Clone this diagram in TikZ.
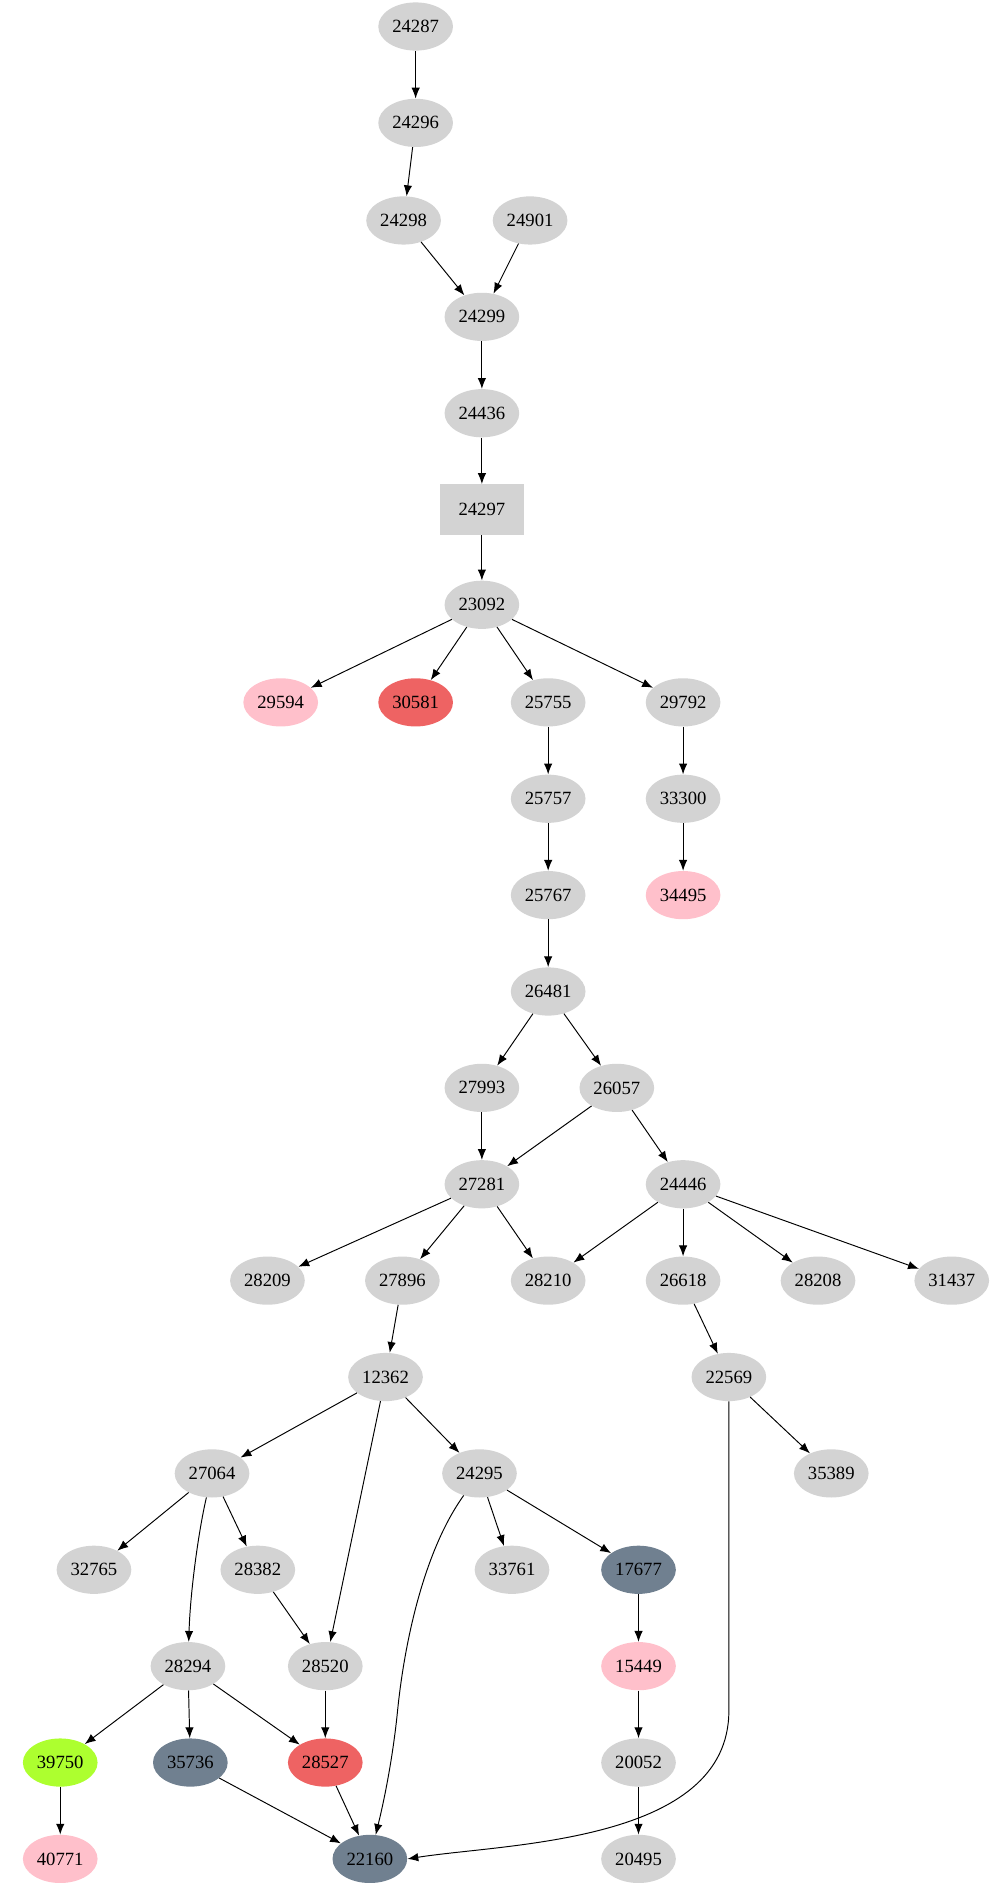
\documentclass[tikz,border=0pt]{standalone}
\usepackage{fontspec}
\setmainfont{Liberation Serif}
\usetikzlibrary{shapes.geometric,arrows.meta}
\definecolor{lg}{HTML}{D3D3D3}
\definecolor{pk}{HTML}{FFC0CB}
\definecolor{rd}{HTML}{EE6363}
\definecolor{sl}{HTML}{708090}
\definecolor{gr}{HTML}{ADFF2F}
\tikzset{
 nd/.style={ellipse,fill=lg,minimum width=62pt,minimum height=40pt,inner sep=0pt,font=\fontsize{15.5}{18}\selectfont},
 bx/.style={rectangle,fill=lg,minimum width=70pt,minimum height=42pt,inner sep=0pt,font=\fontsize{15.5}{18}\selectfont},
 e/.style={-{Latex[length=9pt,width=7pt]},line width=0.8pt}
}
\begin{document}
\begin{tikzpicture}[x=1pt,y=-1pt]
\useasboundingbox (0,0) rectangle (831,1563);
\node[nd] (a24287) at (345,22) {24287};
\node[nd] (a24296) at (345,102) {24296};
\node[nd] (a24298) at (335,183) {24298};
\node[nd] (a24901) at (440,183) {24901};
\node[nd] (a24299) at (400,263) {24299};
\node[nd] (a24436) at (400,343) {24436};
\node[bx] (a24297) at (400,423) {24297};
\node[nd] (a23092) at (400,502) {23092};
\node[nd,fill=pk] (a29594) at (233,583) {29594};
\node[nd,fill=rd] (a30581) at (345,583) {30581};
\node[nd] (a25755) at (455,583) {25755};
\node[nd] (a29792) at (567,583) {29792};
\node[nd] (a25757) at (455,663) {25757};
\node[nd] (a33300) at (567,663) {33300};
\node[nd] (a25767) at (455,743) {25767};
\node[nd,fill=pk] (a34495) at (567,743) {34495};
\node[nd] (a26481) at (455,823) {26481};
\node[nd] (a27993) at (400,903) {27993};
\node[nd] (a26057) at (512,903) {26057};
\node[nd] (a27281) at (400,983) {27281};
\node[nd] (a24446) at (567,983) {24446};
\node[nd] (a28209) at (222,1063) {28209};
\node[nd] (a27896) at (334,1063) {27896};
\node[nd] (a28210) at (455,1063) {28210};
\node[nd] (a26618) at (567,1063) {26618};
\node[nd] (a28208) at (679,1063) {28208};
\node[nd] (a31437) at (790,1063) {31437};
\node[nd] (a12362) at (320,1143) {12362};
\node[nd] (a22569) at (605,1143) {22569};
\node[nd] (a27064) at (176,1223) {27064};
\node[nd] (a24295) at (398,1223) {24295};
\node[nd] (a35389) at (690,1223) {35389};
\node[nd] (a32765) at (78,1303) {32765};
\node[nd] (a28382) at (214,1303) {28382};
\node[nd] (a33761) at (425,1303) {33761};
\node[nd,fill=sl] (a17677) at (530,1303) {17677};
\node[nd] (a28294) at (156,1383) {28294};
\node[nd] (a28520) at (270,1383) {28520};
\node[nd,fill=pk] (a15449) at (530,1383) {15449};
\node[nd,fill=gr] (a39750) at (50,1463) {39750};
\node[nd,fill=sl] (a35736) at (158,1463) {35736};
\node[nd,fill=rd] (a28527) at (270,1463) {28527};
\node[nd] (a20052) at (530,1463) {20052};
\node[nd,fill=pk] (a40771) at (50,1543) {40771};
\node[nd,fill=sl] (a22160) at (307,1543) {22160};
\node[nd] (a20495) at (530,1543) {20495};
\draw[e] (a24287)--(a24296);
\draw[e] (a24296)--(a24298);
\draw[e] (a24298)--(a24299);
\draw[e] (a24901)--(a24299);
\draw[e] (a24299)--(a24436);
\draw[e] (a24436)--(a24297);
\draw[e] (a24297)--(a23092);
\draw[e] (a23092)--(a29594);
\draw[e] (a23092)--(a30581);
\draw[e] (a23092)--(a25755);
\draw[e] (a23092)--(a29792);
\draw[e] (a25755)--(a25757);
\draw[e] (a29792)--(a33300);
\draw[e] (a25757)--(a25767);
\draw[e] (a33300)--(a34495);
\draw[e] (a25767)--(a26481);
\draw[e] (a26481)--(a27993);
\draw[e] (a26481)--(a26057);
\draw[e] (a27993)--(a27281);
\draw[e] (a26057)--(a27281);
\draw[e] (a26057)--(a24446);
\draw[e] (a27281)--(a28209);
\draw[e] (a27281)--(a27896);
\draw[e] (a27281)--(a28210);
\draw[e] (a24446)--(a28210);
\draw[e] (a24446)--(a26618);
\draw[e] (a24446)--(a28208);
\draw[e] (a24446)--(a31437);
\draw[e] (a27896)--(a12362);
\draw[e] (a26618)--(a22569);
\draw[e] (a12362)--(a27064);
\draw[e] (a12362)--(a28520);
\draw[e] (a12362)--(a24295);
\draw[e] (a22569)--(a35389);
\draw[e] (a22569.south) .. controls (605,1300) and (605,1380) .. (605,1420) .. controls (605,1530) and (420,1530) .. (a22160.east);
\draw[e] (a27064)--(a32765);
\draw[e] (a27064)--(a28382);
\draw[e] (a27064) .. controls (165,1270) and (158,1320) .. (a28294);
\draw[e] (a24295)--(a33761);
\draw[e] (a24295)--(a17677);
\draw[e] (a24295) .. controls (350,1290) and (335,1370) .. (330,1420) .. controls (325,1470) and (315,1510) .. (a22160);
\draw[e] (a28382)--(a28520);
\draw[e] (a17677)--(a15449);
\draw[e] (a28294)--(a39750);
\draw[e] (a28294)--(a35736);
\draw[e] (a28294)--(a28527);
\draw[e] (a28520)--(a28527);
\draw[e] (a15449)--(a20052);
\draw[e] (a39750)--(a40771);
\draw[e] (a35736)--(a22160);
\draw[e] (a28527)--(a22160);
\draw[e] (a20052)--(a20495);
\end{tikzpicture}
\end{document}
